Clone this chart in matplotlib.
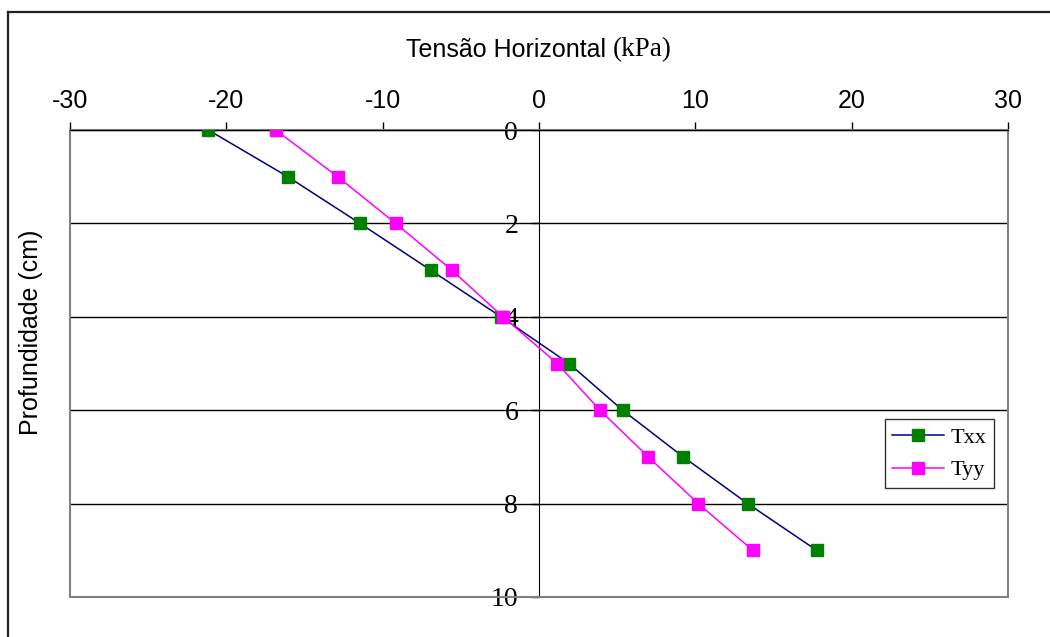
import matplotlib

matplotlib.use("Agg")
import matplotlib.pyplot as plt
from matplotlib.lines import Line2D
from matplotlib.patches import Rectangle

# depth (cm) and horizontal stress (kPa)
depth = [0, 1, 2, 3, 4, 5, 6, 7, 8, 9]
txx = [-21.15, -16.07, -11.45, -6.93, -2.43, 1.92, 5.35, 9.23, 13.35, 17.76]
tyy = [-16.84, -12.88, -9.17, -5.58, -2.30, 1.17, 3.90, 6.99, 10.19, 13.67]
xticks = [-30, -20, -10, 0, 10, 20, 30]
yticks = [0, 2, 4, 6, 8, 10]

SANS = ["Liberation Sans", "DejaVu Sans"]
SERIF = ["Liberation Serif", "DejaVu Serif"]
plt.rcParams["axes.unicode_minus"] = False

fig = plt.figure(figsize=(10.5, 6.37), dpi=100)
ax = fig.add_axes([70 / 1050, 40 / 637, 938 / 1050, 467 / 637])

ax.plot(txx, depth, color="#000080", lw=1.1, marker="s", ms=8.5,
        mfc="#008000", mec="#008000", label="Txx", zorder=4)
ax.plot(tyy, depth, color="#FF00FF", lw=1.1, marker="s", ms=8.5,
        mfc="#FF00FF", mec="#FF00FF", label="Tyy", zorder=4)

ax.set_xlim(-30, 30)
ax.set_ylim(10, 0)
ax.set_xticks(xticks)
ax.set_yticks(yticks)

# x ticks on top, y axis running through x=0
ax.xaxis.tick_top()
ax.tick_params(axis="x", direction="out", length=6, width=1, colors="black",
               labelsize=18, pad=6)
for lab in ax.get_xticklabels():
    lab.set_family(SANS)
ax.spines["left"].set_position(("data", 0))
ax.spines["left"].set_color("black")
ax.tick_params(axis="y", direction="out", length=6, width=1,
               labelsize=20, pad=9)
for lab in ax.get_yticklabels():
    lab.set_family(SERIF)
    lab.set_va("center_baseline")
ax.spines["top"].set_color("black")
for s in ("right", "bottom"):
    ax.spines[s].set_visible(False)

ax.grid(axis="y", color="black", lw=1)
ax.grid(axis="x", visible=False)
ax.set_axisbelow(True)

# gray plot frame
ax.add_patch(Rectangle((0, 0), 1, 1, transform=ax.transAxes, fill=False,
                       edgecolor="#808080", lw=1.5, zorder=3, clip_on=False))
ax.spines["top"].set_zorder(3.5)

leg = ax.legend(loc="lower right", bbox_to_anchor=(0.985, 0.233),
                borderaxespad=0, prop={"family": SERIF, "size": 16},
                handlelength=2.3, handletextpad=0.3, labelspacing=0.55,
                fancybox=False, framealpha=1, borderpad=0.35)
leg.get_frame().set_edgecolor("#333333")
leg.get_frame().set_linewidth(1)

# title: sans text with serif unit
fig.text(606 / 1050, 1 - 50 / 637, "Tensão Horizontal", ha="right",
         va="center", fontsize=18, family=SANS)
fig.text(613 / 1050, 1 - 50 / 637, "(kPa)", ha="left", va="center",
         fontsize=19.5, family=SERIF)
fig.text(31 / 1050, 1 - 332 / 637, "Profundidade (cm)", rotation=90,
         ha="center", va="center", fontsize=18, family=SANS)

# outer chart border (only top and left visible)
fig.add_artist(Line2D([8 / 1050, 8 / 1050], [0, 1 - 12 / 637],
                      color="#222222", lw=1.6))
fig.add_artist(Line2D([8 / 1050, 1], [1 - 12 / 637, 1 - 12 / 637],
                      color="#222222", lw=1.6))

fig.savefig("out.png", dpi=100)
